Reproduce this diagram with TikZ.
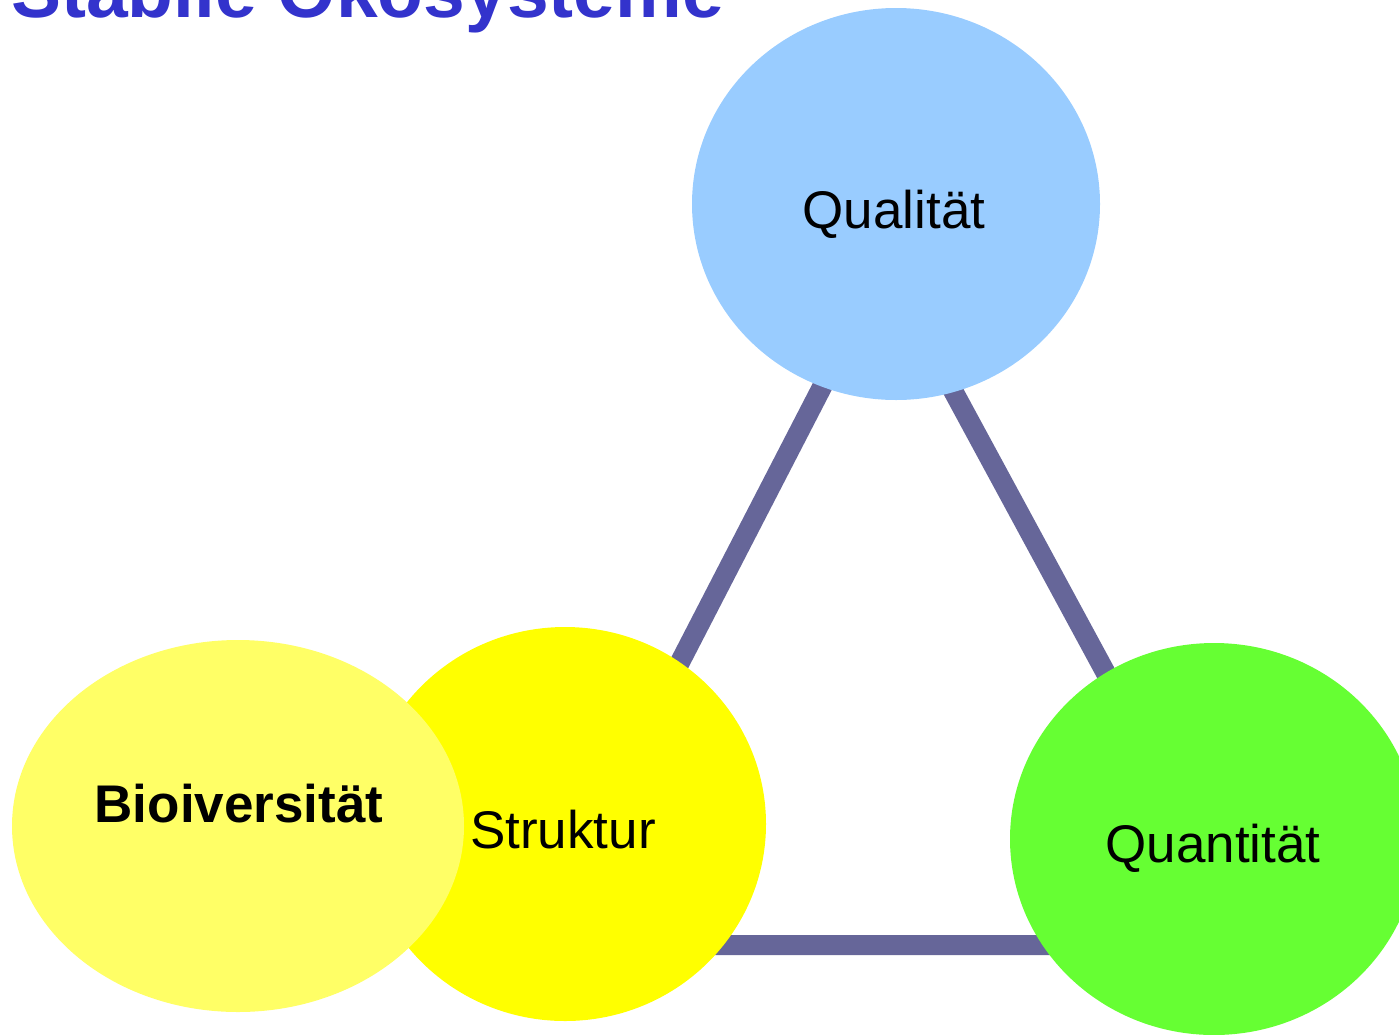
\documentclass[tikz,border=0pt]{standalone}
\usepackage{fontspec}
\setmainfont{Liberation Sans}
\usetikzlibrary{shapes.geometric}
\definecolor{qblue}{HTML}{99CCFF}
\definecolor{syellow}{HTML}{FFFF00}
\definecolor{byellow}{HTML}{FFFF66}
\definecolor{qgreen}{HTML}{66FF33}
\definecolor{linkc}{HTML}{666699}
\definecolor{titlec}{HTML}{3333CC}
\tikzset{
  blob/.style={ellipse, draw=none, inner sep=0pt},
  lbl/.style={font=\fontsize{53}{60}\selectfont, text=black, inner sep=0pt, anchor=base},
  link/.style={draw=linkc, line width=20pt, line join=miter},
}
\begin{document}
\begin{tikzpicture}[x=1pt,y=-1pt]
\useasboundingbox (0,0) rectangle (1399,1034);
% triangle corners (hidden behind the circles)
\coordinate (ta) at (885,265);
\coordinate (tb) at (534,945);
\coordinate (tc) at (1253,945);
\draw[link] (ta) -- (tb) -- (tc) -- cycle;
% circles
\node[blob, fill=qblue, minimum width=408pt, minimum height=392pt] (qual) at (896,204) {};
\node[blob, fill=syellow, minimum width=402pt, minimum height=394pt] (strk) at (565,824) {};
\node[blob, fill=qgreen, minimum width=408pt, minimum height=392pt] (quan) at (1214,839) {};
\node[blob, fill=byellow, minimum width=452pt, minimum height=372pt] (bio) at (238,826) {};
% labels
\node[lbl] (qualt) at (894,228) {Qualität};
\node[lbl] (strkt) at (563,848) {Struktur};
\node[lbl] (quant) at (1213,862) {Quantität};
\node[lbl, font=\fontsize{53}{60}\selectfont\bfseries] (biot) at (239,822) {Bioiversität};
% title (cut off at the top edge, as in the reference)
\node[font=\fontsize{75}{80}\selectfont\bfseries, text=titlec, inner sep=0pt, anchor=base west] (title) at (11,17) {Stabile Ökosysteme};
\end{tikzpicture}
\end{document}
